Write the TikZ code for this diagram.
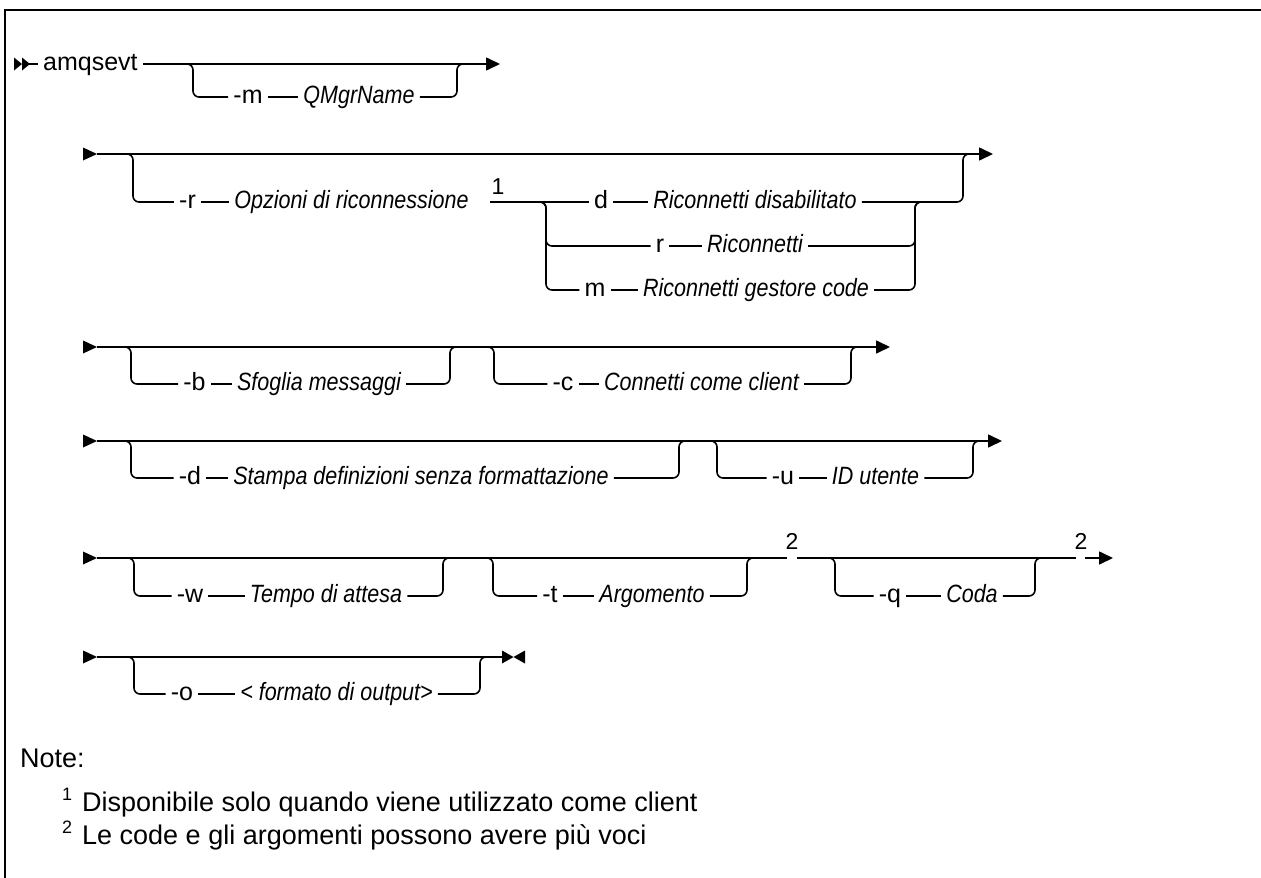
\documentclass[tikz,border=0pt]{standalone}
\usepackage{fontspec}
\setmainfont{Liberation Sans}
\newfontfamily\railfont{Liberation Sans}
\newfontfamily\varfontfam[FakeStretch=0.86]{Liberation Sans}
\usetikzlibrary{arrows.meta}
\tikzset{
  main/.style={line width=1.6pt},
  rail/.style={line width=1.6pt, rounded corners=6pt},
  endtip/.style={-{Triangle[length=14pt,width=13pt]}},
  lab/.style={inner xsep=5pt, inner ysep=0pt, text height=18pt, text depth=5pt, font=\railfont\fontsize{25}{28}\selectfont},
  var/.style={lab, font=\varfontfam\itshape\fontsize{25}{28}\selectfont},
  supnum/.style={inner sep=0pt, anchor=base, font=\railfont\fontsize{23}{26}\selectfont},
  notetxt/.style={inner sep=0pt, anchor=base west, font=\fontsize{27}{31}\selectfont},
  notesup/.style={inner sep=0pt, anchor=base west, font=\fontsize{18}{21}\selectfont},
  frameline/.style={line width=2.5pt, line join=miter}
}
% optional branch: prefix, left x, right x, main y, branch y, flag x, flag, var x, var
\newcommand\optbr[9]{%
  \coordinate (#1l) at (#2,#4);
  \coordinate (#1r) at (#3,#4);
  \node[lab] (#1f) at (#6,#5) {#7};
  \node[var] (#1v) at (#8,#5) {#9};
  \draw[rail] (#1l) ++(-6,0) -- (#1l) |- (#1f.west);
  \draw[rail] (#1f) -- (#1v);
  \draw[rail] (#1v.east) -| (#1r) -- ++(6,0);
}
\newcommand\startsym[3]{%
  \coordinate (#1) at (#2,#3);
  \fill (#1) ++(0,-6.5) -- ++(14,6.5) -- ++(-14,6.5) -- cycle;
  \coordinate (#1e) at (#2+14,#3);
}
\begin{document}
\begin{tikzpicture}[x=1pt,y=-1pt]
\useasboundingbox (0,0) rectangle (1261,878);
\fill[white] (0,0) rectangle (1261,878);
\draw[frameline] (5,878) -- (5,10) -- (1261,10);

% ---- Row 1
\coordinate (s1) at (14,64);
\fill (s1) ++(0,-6.5) -- ++(8,6.5) -- ++(-8,6.5) -- cycle;
\fill (s1) ++(8,-6.5) -- ++(8,6.5) -- ++(-8,6.5) -- cycle;
\coordinate (s1e) at (29,64);
\node[lab,anchor=west] (amq) at (38,64) {amqsevt};
\coordinate (e1) at (500,64);
\draw[main] (s1e) -- (amq.west);
\draw[main,endtip] (amq.east) -- (e1);
\optbr{b1}{193}{457}{64}{97}{248}{-m}{359}{QMgrName}

% ---- Row 2
\startsym{s2}{83}{154}
\coordinate (e2) at (993,154);
\draw[main,endtip] (s2e) -- (e2);
\coordinate (b2l) at (133,154);
\coordinate (b2r) at (963,154);
\node[lab] (r2f) at (187.5,202) {-r};
\node[var] (r2v) at (351.5,202) {Opzioni di riconnessione};
\coordinate (n1s) at (490,202);
\node[supnum] (n1) at (498,194) {1};
\coordinate (i2l) at (546,202);
\coordinate (i2r) at (915,202);
\node[lab] (d2f) at (601,202) {d};
\node[var] (d2v) at (755,202) {Riconnetti disabilitato};
\draw[rail] (b2l) ++(-6,0) -- (b2l) |- (r2f.west);
\draw[rail] (r2f) -- (r2v);
\draw[rail] (n1s) -- (d2f.west);
\draw[rail] (d2f) -- (d2v);
\draw[rail] (d2v.east) -| (b2r) -- ++(6,0);
\node[lab] (r3f) at (660,246) {r};
\node[var] (r3v) at (755,246) {Riconnetti};
\draw[rail] (i2l) ++(-6,0) -- (i2l) |- (r3f.west);
\draw[rail] (r3f) -- (r3v);
\draw[rail] (r3v.east) -| (i2r) -- ++(6,0);
\node[lab] (m3f) at (595,290) {m};
\node[var] (m3v) at (756,290) {Riconnetti gestore code};
\draw[rail] (i2l) ++(-6,0) -- (i2l) |- (m3f.west);
\draw[rail] (m3f) -- (m3v);
\draw[rail] (m3v.east) -| (i2r) -- ++(6,0);

% ---- Row 3
\startsym{s3}{83}{347}
\coordinate (e3) at (890,347);
\draw[main,endtip] (s3e) -- (e3);
\optbr{b3}{131}{450}{347}{384}{194.5}{-b}{319}{Sfoglia messaggi}
\optbr{c3}{494}{851}{347}{384}{563}{-c}{701.5}{Connetti come client}

% ---- Row 4
\startsym{s4}{83}{441}
\coordinate (e4) at (1002,441);
\draw[main,endtip] (s4e) -- (e4);
\optbr{d4}{131}{679}{441}{478}{190}{-d}{421}{Stampa definizioni senza formattazione}
\optbr{u4}{717}{973}{441}{478}{783}{-u}{875.5}{ID utente}

% ---- Row 5
\startsym{s5}{83}{558}
\coordinate (g1) at (787,558);
\coordinate (g2) at (797,558);
\coordinate (g3) at (1076,558);
\coordinate (g4) at (1085,558);
\coordinate (e5) at (1113,558);
\draw[main] (s5e) -- (g1);
\draw[main] (g2) -- (g3);
\draw[main,endtip] (g4) -- (e5);
\node[supnum] (n2a) at (792,549) {2};
\node[supnum] (n2b) at (1081,549) {2};
\optbr{w5}{134}{443}{558}{596}{190}{-w}{326}{Tempo di attesa}
\optbr{t5}{493}{747}{558}{596}{550}{-t}{652}{Argomento}
\optbr{q5}{835}{1035}{558}{596}{890}{-q}{972}{Coda}

% ---- Row 6
\startsym{s6}{83}{657}
\coordinate (e6) at (502,657);
\draw[main] (s6e) -- (e6);
\fill (e6) ++(0,-6.5) -- ++(11.5,6.5) -- ++(-11.5,6.5) -- cycle;
\fill (e6) ++(23,-6.5) -- ++(-11.5,6.5) -- ++(11.5,6.5) -- cycle;
\optbr{o6}{134}{480}{657}{694}{182}{-o}{336.5}{< formato di output>}

% ---- Notes
\node[notetxt] (note) at (20,767) {Note:};
\node[notesup] (fn1) at (62,800) {1};
\node[notetxt] (fn1t) at (82,811) {Disponibile solo quando viene utilizzato come client};
\node[notesup] (fn2) at (62,833) {2};
\node[notetxt] (fn2t) at (82,844) {Le code e gli argomenti possono avere più voci};
\end{tikzpicture}
\end{document}
